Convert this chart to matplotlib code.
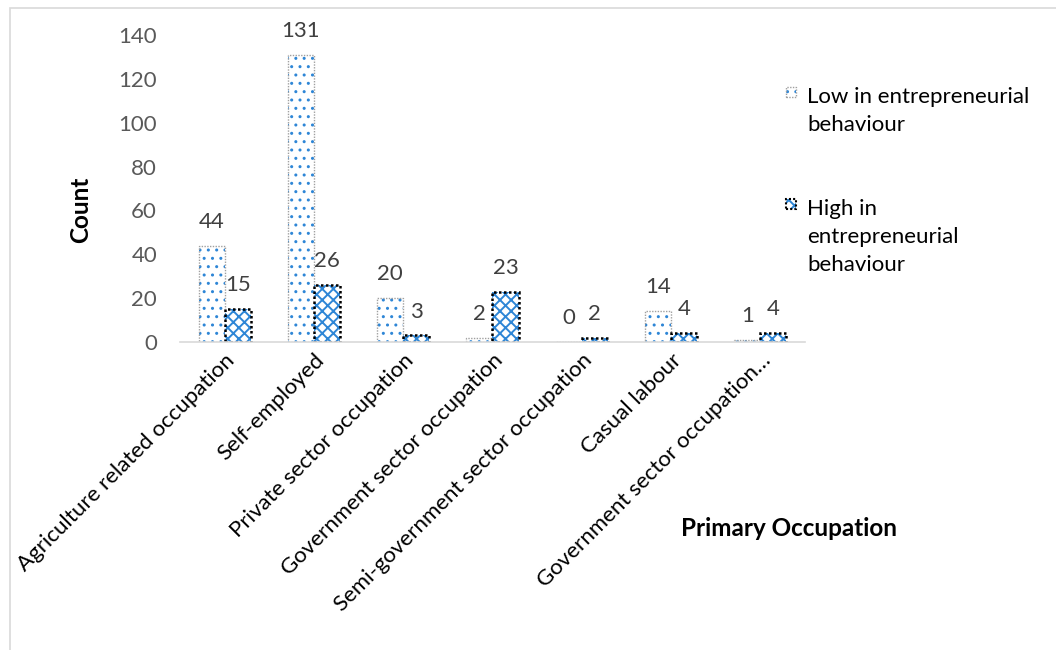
import matplotlib
matplotlib.use("Agg")
import matplotlib.pyplot as plt
from matplotlib.patches import Rectangle
import numpy as np

plt.rcParams['font.family'] = ['Lato', 'DejaVu Sans']

categories = [
    "Agriculture related occupation",
    "Self-employed",
    "Private sector occupation",
    "Government sector occupation",
    "Semi-government sector occupation",
    "Casual labour",
    "Government sector occupation\u2026",
]
low_values = [44, 131, 20, 2, 0, 14, 1]
high_values = [15, 26, 3, 23, 2, 4, 4]
series_names = ["Low in entrepreneurial\nbehaviour", "High in\nentrepreneurial\nbehaviour"]
y_ticks = [0, 20, 40, 60, 80, 100, 120, 140]

BLUE = "#2E86D6"
W, H = 1056, 650
FS = 16
fig = plt.figure(figsize=(W / 100, H / 100), dpi=100)
ax = fig.add_axes([180 / W, 1 - 342 / H, (805 - 180) / W, (342 - 35) / H])

x = np.arange(len(categories))
bw = 0.292


def set_hlw(patches, lw):
    for p in patches:
        if hasattr(p, "set_hatch_linewidth"):
            p.set_hatch_linewidth(lw)


# low series: sparse dots, light dotted outline
b1 = ax.bar(x - bw / 2, low_values, bw, color="white", edgecolor=BLUE, hatch="..", linewidth=0)
set_hlw(b1, 1.0)
ax.bar(x - bw / 2, low_values, bw, fill=False, edgecolor="#A0A0A0", linestyle=(0, (1, 1)), linewidth=1.0)
# high series: woven fill, black dotted outline
b2 = ax.bar(x + bw / 2, high_values, bw, color="white", edgecolor=BLUE, hatch="xxx", linewidth=0)
set_hlw(b2, 1.4)
ax.bar(x + bw / 2, high_values, bw, fill=False, edgecolor="black", linestyle=(0, (1, 1)), linewidth=1.8)

for xi, v in zip(x - bw / 2, low_values):
    ax.annotate(str(v), (xi, v), xytext=(0, 10), textcoords="offset points",
                ha="center", va="bottom", fontsize=FS, color="#404040")
for xi, v in zip(x + bw / 2, high_values):
    ax.annotate(str(v), (xi, v), xytext=(0, 10), textcoords="offset points",
                ha="center", va="bottom", fontsize=FS, color="#404040")

ax.set_xlim(-0.5, len(categories) - 0.5)
ax.set_ylim(0, 140)
ax.set_yticks(y_ticks)
ax.set_yticklabels([str(t) for t in y_ticks], fontsize=FS, color="#595959")
ax.set_xticks(x)
ax.set_xticklabels(categories, rotation=45, ha="right", va="top",
                   rotation_mode="anchor", fontsize=FS, color="black")
ax.tick_params(axis="both", length=0)
ax.tick_params(axis="y", pad=16.5)
ax.tick_params(axis="x", pad=6)
for s in ["top", "right", "left"]:
    ax.spines[s].set_visible(False)
ax.spines["bottom"].set_color("#D9D9D9")
ax.spines["bottom"].set_linewidth(1.2)

fig.text(81 / W, 1 - 210 / H, "Count", rotation=90, ha="center", va="center",
         fontsize=17.5, fontweight="bold")
fig.text(789 / W, 1 - 528 / H, "Primary Occupation", ha="center", va="center",
         fontsize=17.5, fontweight="bold")


# legend
def legend_entry(marker_cy, first_line_cy, label, hatch, edge, lw, hlw):
    sq = 10
    y0 = 1 - (marker_cy + sq / 2) / H
    r = Rectangle((786 / W, y0), sq / W, sq / H, transform=fig.transFigure,
                  facecolor="white", edgecolor=BLUE, hatch=hatch, linewidth=0)
    set_hlw([r], hlw)
    fig.patches.append(r)
    fig.patches.append(Rectangle((786 / W, y0), sq / W, sq / H,
                                 transform=fig.transFigure, fill=False,
                                 edgecolor=edge, linestyle=(0, (1, 1)), linewidth=lw))
    for k, line in enumerate(label.split("\n")):
        fig.text(807 / W, 1 - (first_line_cy + 28 * k) / H, line, ha="left",
                 va="center_baseline", fontsize=FS)


legend_entry(92, 95, series_names[0], "..", "#A0A0A0", 1.0, 1.0)
legend_entry(204, 207, series_names[1], "xxx", "black", 1.5, 1.4)

# outer chart frame
fig.patches.append(Rectangle((10 / W, -0.1), 1.2, 1 - 8 / H + 0.1,
                             transform=fig.transFigure, fill=False,
                             edgecolor="#D9D9D9", linewidth=1.2))

fig.savefig("out.png", dpi=100)
